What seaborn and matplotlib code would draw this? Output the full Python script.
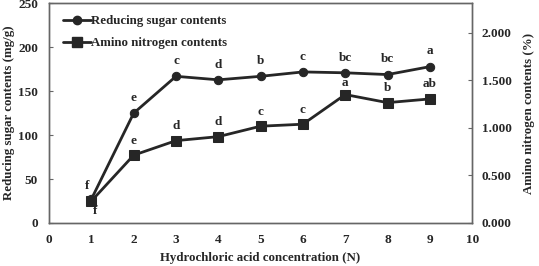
import matplotlib
matplotlib.use("Agg")
import matplotlib.pyplot as plt
import seaborn as sns
import pandas as pd
from matplotlib.lines import Line2D

sns.set_style("white")
plt.rcParams['font.family'] = ['Liberation Serif', 'DejaVu Serif']
plt.rcParams['font.weight'] = 'bold'

concentration = [1, 2, 3, 4, 5, 6, 7, 8, 9]
reducing_sugar = [27, 125, 167, 163, 167, 172, 171, 169, 178]
amino_nitrogen = [0.23, 0.713, 0.866, 0.908, 1.018, 1.039, 1.351, 1.266, 1.305]
sugar_letters = ["f", "e", "c", "d", "b", "c", "bc", "bc", "a"]
amino_letters = ["f", "e", "d", "d", "c", "c", "a", "b", "ab"]
x_ticks = [0, 1, 2, 3, 4, 5, 6, 7, 8, 9, 10]
left_ticks = [0, 50, 100, 150, 200, 250]
right_ticks = [0.0, 0.5, 1.0, 1.5, 2.0]

df = pd.DataFrame({"conc": concentration, "sugar": reducing_sugar, "amino": amino_nitrogen})

fig = plt.figure(figsize=(5.39, 2.66), dpi=100)
ax = fig.add_axes([0.091, 0.162, 0.785, 0.825])
ax2 = ax.twinx()

line_color = "#262626"
sns.lineplot(data=df, x="conc", y="sugar", ax=ax, color=line_color, marker="o",
             markersize=6, linewidth=2, markeredgecolor=line_color)
sns.lineplot(data=df, x="conc", y="amino", ax=ax2, color=line_color, marker="s",
             markersize=7, linewidth=2, markeredgecolor=line_color)

ax.set_xlim(0, 10)
ax.set_ylim(0, 250)
ax2.set_ylim(0, 2.31)
ax.set_xticks(x_ticks)
ax.set_yticks(left_ticks)
ax2.set_yticks(right_ticks)
ax2.set_yticklabels([f"{v:.3f}" for v in right_ticks])

fs = 9.5
ax.set_xlabel("Hydrochloric acid concentration (N)", fontsize=9.3, fontweight="bold", labelpad=4)
ax.set_ylabel("Reducing sugar contents (mg/g)", fontsize=9.3, fontweight="bold", labelpad=2)
ax2.set_ylabel("Amino nitrogen contents (%)", fontsize=9.3, fontweight="bold", labelpad=8)

for a in (ax, ax2):
    for s in a.spines.values():
        s.set_color("#666666")
        s.set_linewidth(1.0)
ax.tick_params(axis="y", direction="in", length=3, labelsize=fs, color="#666666", pad=8)
ax.tick_params(axis="x", direction="in", length=0, labelsize=fs, pad=8)
ax2.tick_params(axis="y", direction="in", length=3, labelsize=fs, color="#666666", pad=7)
for lab in ax.get_xticklabels() + ax.get_yticklabels() + ax2.get_yticklabels():
    lab.set_fontweight("bold")

# letters
for i, (xv, yv, t) in enumerate(zip(concentration, reducing_sugar, sugar_letters)):
    off = (0, 11) if i > 0 else (-3, 9.5)
    ax.annotate(t, (xv, yv), xytext=off, textcoords="offset points", ha="center",
                va="center", fontsize=fs, fontweight="bold")
for i, (xv, yv, t) in enumerate(zip(concentration, amino_nitrogen, amino_letters)):
    if i == 0:
        off = (3, -7)
    elif t == "a":
        off = (0, 8.5)
    else:
        off = (0, 10.5)
    ax2.annotate(t, (xv, yv), xytext=off, textcoords="offset points", ha="center",
                 va="center", fontsize=fs, fontweight="bold")

handles = [Line2D([], [], color=line_color, marker="o", markersize=6, linewidth=2),
           Line2D([], [], color=line_color, marker="s", markersize=7, linewidth=2)]
leg = ax.legend(handles, ["Reducing sugar contents", "Amino nitrogen contents"],
                loc="upper left", bbox_to_anchor=(0.005, 1.0), frameon=False,
                prop={"size": 9.3, "weight": "bold"}, handlelength=2.2,
                handletextpad=0.0, labelspacing=0.8)

fig.savefig("out.png", dpi=100)
